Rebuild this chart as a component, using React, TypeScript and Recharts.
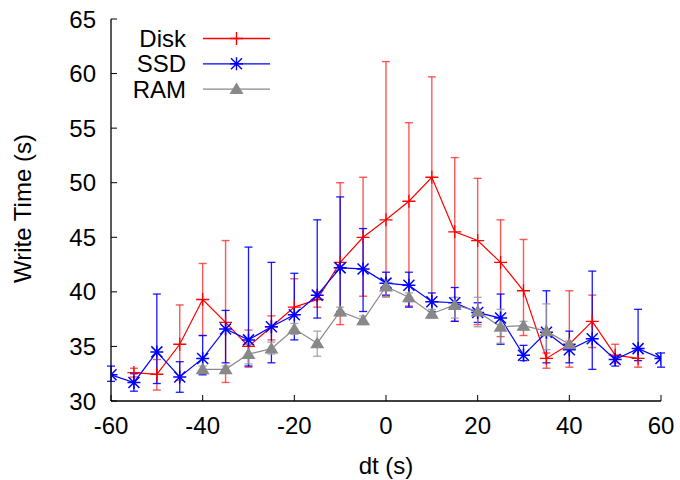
import React from 'react';
import { ComposedChart, Line, XAxis, YAxis, ErrorBar, Legend } from 'recharts';

// write times per dt, with the low/high ends of each error bar
const diskDt = [-55, -50, -45, -40, -35, -30, -25, -20, -15, -10, -5, 0, 5, 10, 15, 20, 25, 30, 35, 40, 45, 50, 55];
const diskTime = [32.6, 32.45, 35.2, 39.3, 37.2, 35.0, 36.8, 38.6, 39.3, 42.7, 45.0, 46.6, 48.3, 50.5, 45.5, 44.7, 42.7, 40.1, 33.9, 35.2, 37.3, 34.2, 33.9];
const diskLow = [32.2, 31.0, 31.9, 36.0, 31.7, 33.1, 35.6, 37.8, 38.6, 37.0, 39.6, 39.6, 38.7, 37.9, 37.3, 37.0, 35.9, 36.0, 33.0, 33.1, 34.9, 33.5, 33.1];
const diskHigh = [33.0, 33.8, 38.8, 42.6, 44.7, 36.5, 37.8, 41.2, 40.0, 50.0, 50.5, 61.1, 55.5, 59.7, 52.3, 50.4, 46.6, 44.8, 34.4, 40.1, 39.7, 35.2, 34.7];

const ssdDt = [-60, -55, -50, -45, -40, -35, -30, -25, -20, -15, -10, -5, 0, 5, 10, 15, 20, 25, 30, 35, 40, 45, 50, 55, 60];
const ssdTime = [32.4, 31.7, 34.5, 32.2, 33.9, 36.6, 35.6, 36.8, 37.9, 39.7, 42.2, 42.1, 40.8, 40.6, 39.1, 39.0, 38.1, 37.6, 34.2, 36.3, 34.7, 35.7, 33.8, 34.8, 33.9];
const ssdLow = [31.8, 30.9, 31.6, 30.8, 32.4, 33.5, 33.2, 33.5, 35.6, 37.6, 38.2, 38.2, 39.7, 38.6, 38.2, 37.3, 37.2, 35.2, 33.7, 33.5, 33.5, 32.9, 33.2, 33.7, 33.1];
const ssdHigh = [33.2, 32.5, 39.8, 33.6, 36.0, 38.3, 44.1, 42.7, 41.7, 46.6, 48.7, 45.8, 41.8, 41.8, 39.9, 40.4, 39.0, 39.8, 35.1, 40.1, 36.4, 41.9, 34.1, 38.4, 34.4];

const ramDt = [-40, -35, -30, -25, -20, -15, -10, -5, 0, 5, 10, 15, 20, 25, 30, 35, 40];
const ramTime = [32.9, 32.9, 34.3, 34.8, 36.6, 35.3, 38.2, 37.4, 40.5, 39.5, 38.0, 38.8, 38.2, 36.8, 36.9, 36.4, 35.2];
const ramLow = [32.6, 32.6, 33.4, 34.3, 36.1, 34.1, 37.8, 37.0, 39.5, 39.1, 37.6, 37.6, 36.8, 35.3, 36.5, 34.7, 34.9];
const ramHigh = [33.2, 33.2, 35.2, 35.4, 37.1, 36.4, 38.6, 37.8, 41.1, 39.9, 38.4, 39.5, 39.5, 38.4, 37.3, 38.9, 35.5];

const xTicks = [-60, -40, -20, 0, 20, 40, 60];
const yTicks = [30, 35, 40, 45, 50, 55, 60, 65];

const FONT = '"Liberation Sans", Arial, Helvetica, sans-serif';

const toRows = (dts: number[], vals: number[], lows: number[], highs: number[]) =>
  dts.map((dt, i) => ({ dt, time: vals[i], err: [vals[i] - lows[i], highs[i] - vals[i]] }));

const diskData = toRows(diskDt, diskTime, diskLow, diskHigh);
const ssdData = toRows(ssdDt, ssdTime, ssdLow, ssdHigh);
const ramData = toRows(ramDt, ramTime, ramLow, ramHigh);

const plusPath = (cx: number, cy: number) => `M${cx - 6.5},${cy}h13M${cx},${cy - 6.5}v13`;
const starPath = (cx: number, cy: number) =>
  `M${cx - 6.5},${cy}h13M${cx},${cy - 6.5}v13M${cx - 5.5},${cy - 5.5}l11,11M${cx - 5.5},${cy + 5.5}l11,-11`;
const triPath = (cx: number, cy: number) =>
  `M${cx},${cy - 6.5}L${cx + 7},${cy + 5}L${cx - 7},${cy + 5}Z`;

const PlusDot = (p: any) =>
  p.cx == null ? <g key={p.index} /> : <path key={p.index} d={plusPath(p.cx, p.cy)} stroke="#ff0000" strokeWidth={1.3} fill="none" />;
const StarDot = (p: any) =>
  p.cx == null ? <g key={p.index} /> : <path key={p.index} d={starPath(p.cx, p.cy)} stroke="#0000ff" strokeWidth={1.5} fill="none" />;
const TriDot = (p: any) =>
  p.cx == null ? <g key={p.index} /> : <path key={p.index} d={triPath(p.cx, p.cy)} fill="#888888" stroke="none" />;

const legendRows = [
  { name: 'Disk', color: '#ff0000', marker: plusPath, filled: false },
  { name: 'SSD', color: '#0000ff', marker: starPath, filled: false },
  { name: 'RAM', color: '#888888', marker: triPath, filled: true },
];

const KeyBox = () => (
  <svg width={280} height={110}>
    {legendRows.map((r, i) => {
      const y = 38.5 + i * 25.3;
      return (
        <g key={r.name}>
          <text x={186} y={y + 8.5} textAnchor="end" fontSize={24} fontFamily={FONT} fill="#000">
            {r.name}
          </text>
          <line x1={203} x2={270} y1={y} y2={y} stroke={r.color} strokeWidth={1.3} />
          <path
            d={r.marker(236.5, y)}
            stroke={r.filled ? 'none' : r.color}
            fill={r.filled ? r.color : 'none'}
            strokeWidth={1.4}
          />
        </g>
      );
    })}
  </svg>
);

const YLabel = (props: any) => {
  const vb = props.viewBox || { x: 0, y: 19, width: 111, height: 382 };
  const cx = vb.x + 31;
  const cy = vb.y + vb.height / 2 - 1.5;
  return (
    <text x={cx} y={cy} transform={`rotate(-90 ${cx} ${cy})`} textAnchor="middle" fontSize={24} fontFamily={FONT} fill="#000">
      Write Time (s)
    </text>
  );
};

const tickStyle = { fill: '#000', fontSize: 24, fontFamily: FONT };

export default function App() {
  return (
    <div style={{ position: 'absolute', left: 0, top: 0, width: 680, height: 480, background: '#fff' }}>
      <ComposedChart width={680} height={480} margin={{ top: 19, right: 19, bottom: 0, left: 0 }}>
        <XAxis
          dataKey="dt"
          type="number"
          domain={[-60, 60]}
          ticks={xTicks}
          interval={0}
          height={79}
          tickSize={-6}
          tickMargin={22}
          tick={tickStyle}
          axisLine={{ stroke: '#000', strokeWidth: 1.3 }}
          tickLine={{ stroke: '#000' }}
          allowDataOverflow
          label={{ value: 'dt (s)', position: 'insideBottom', offset: 6, fill: '#000', fontSize: 24, fontFamily: FONT }}
        />
        <XAxis
          xAxisId="top"
          orientation="top"
          type="number"
          domain={[-60, 60]}
          ticks={xTicks}
          interval={0}
          height={0}
          tickSize={-6}
          tick={false}
          axisLine={{ stroke: '#000', strokeWidth: 1.3 }}
          tickLine={{ stroke: '#000' }}
          allowDataOverflow
        />
        <YAxis
          type="number"
          domain={[30, 65]}
          ticks={yTicks}
          interval={0}
          width={111}
          tickSize={-6}
          tickMargin={21}
          tick={tickStyle}
          axisLine={{ stroke: '#000', strokeWidth: 1.3 }}
          tickLine={{ stroke: '#000' }}
          allowDataOverflow
          label={YLabel}
        />
        <YAxis
          yAxisId="right"
          orientation="right"
          type="number"
          domain={[30, 65]}
          ticks={yTicks}
          interval={0}
          width={0}
          tickSize={-6}
          tick={false}
          axisLine={{ stroke: '#000', strokeWidth: 1.3 }}
          tickLine={{ stroke: '#000' }}
          allowDataOverflow
        />
        <Legend
          layout="vertical"
          align="center"
          verticalAlign="middle"
          wrapperStyle={{ position: 'absolute', left: 0, top: 0, width: 280, height: 110 }}
          content={() => <KeyBox />}
        />
        <Line
          data={diskData}
          dataKey="time"
          name="Disk"
          stroke="#ff0000"
          strokeWidth={1.2}
          dot={PlusDot}
          activeDot={false}
          isAnimationActive={false}
        >
          <ErrorBar dataKey="err" direction="y" width={4} stroke="#ff2020" strokeOpacity={0.75} strokeWidth={1.4} isAnimationActive={false} />
        </Line>
        <Line
          data={ssdData}
          dataKey="time"
          name="SSD"
          stroke="#0000ff"
          strokeWidth={1.2}
          dot={StarDot}
          activeDot={false}
          isAnimationActive={false}
        >
          <ErrorBar dataKey="err" direction="y" width={4} stroke="#0000ff" strokeOpacity={0.9} strokeWidth={1.3} isAnimationActive={false} />
        </Line>
        <Line
          data={ramData}
          dataKey="time"
          name="RAM"
          stroke="#888888"
          strokeWidth={1.2}
          dot={TriDot}
          activeDot={false}
          isAnimationActive={false}
        >
          <ErrorBar dataKey="err" direction="y" width={4} stroke="#999999" strokeOpacity={0.85} strokeWidth={1.3} isAnimationActive={false} />
        </Line>
      </ComposedChart>
    </div>
  );
}
